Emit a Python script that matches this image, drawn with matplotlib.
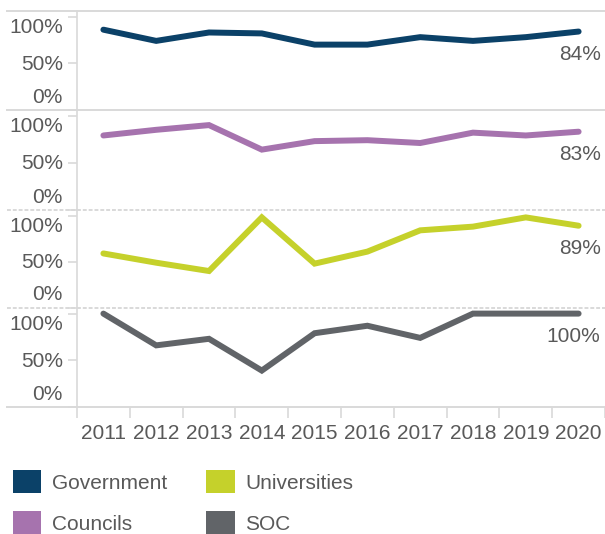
import matplotlib
matplotlib.use("Agg")
import matplotlib.pyplot as plt
from matplotlib.lines import Line2D
from matplotlib.patches import Patch
import matplotlib.transforms as mtransforms

plt.rcParams['font.family'] = ['Liberation Sans', 'DejaVu Sans']

# share of organisations per year, one series per panel
years = ['2011', '2012', '2013', '2014', '2015', '2016', '2017', '2018', '2019', '2020']
series_names = ['Government', 'Councils', 'Universities', 'SOC']
government = [0.86, 0.74, 0.83, 0.82, 0.70, 0.70, 0.78, 0.74, 0.78, 0.84]
councils = [0.79, 0.85, 0.90, 0.64, 0.73, 0.74, 0.71, 0.82, 0.79, 0.83]
universities = [0.59, 0.49, 0.40, 0.98, 0.48, 0.61, 0.84, 0.88, 0.98, 0.89]
soc = [1.00, 0.66, 0.73, 0.39, 0.79, 0.87, 0.74, 1.00, 1.00, 1.00]
colors = ['#0b4168', '#a673ae', '#c5d12b', '#616468']

text_grey = '#595959'
rule_grey = '#d9d9d9'
fs = 15

W, H = 605, 534
fig = plt.figure(figsize=(W / 100, H / 100), dpi=100)

# panel edges in pixels from the top
edges = [11, 110, 210, 308, 407]
left, right = 77, 605
x = list(range(len(years)))

for i, vals in enumerate([government, councils, universities, soc]):
    top, bot = edges[i], edges[i + 1]
    ax = fig.add_axes([left / W, 1 - bot / H, (right - left) / W, (bot - top) / H])
    ax.plot(x, vals, color=colors[i], lw=4.3, solid_capstyle='round', solid_joinstyle='miter')
    ax.set_xlim(-0.5, len(years) - 0.5)
    ax.set_ylim(0, 1.06)
    for s in ['top', 'right', 'bottom']:
        ax.spines[s].set_visible(False)
    ax.spines['left'].set_color(rule_grey)
    ax.spines['left'].set_linewidth(1.2)

    ax.set_yticks([0, 0.5, 1.0])
    ax.set_yticklabels(['0%', '50%', '100%'])
    ax.tick_params(axis='y', length=6.5, width=1.2, color=rule_grey,
                   labelsize=fs, labelcolor=text_grey, pad=3.8)
    shifts = [15, 1, -9]
    for lab, dy in zip(ax.get_yticklabels(), shifts):
        lab.set_transform(lab.get_transform() +
                          mtransforms.ScaledTranslation(0, dy / 100, fig.dpi_scale_trans))

    # end value label
    ax.annotate(f"{vals[-1]:.0%}", xy=(x[-1], vals[-1]), xytext=(22, -23),
                textcoords='offset pixels', ha='right', va='center',
                fontsize=fs, color=text_grey)

    if i < 3:
        ax.set_xticks([])
    else:
        ax.set_xticks(x)
        ax.set_xticklabels(years)
        ax.set_xticks([v - 0.5 for v in x] + [len(years) - 0.5], minor=True)
        ax.tick_params(axis='x', which='major', length=0, labelsize=fs,
                       labelcolor=text_grey, pad=12)
        ax.tick_params(axis='x', which='minor', length=8, width=1.2, color=rule_grey)

# horizontal rules between panels
styles = ['-', '-', (0, (2, 1)), (0, (2, 1)), '-']
for y, ls in zip(edges, styles):
    fig.add_artist(Line2D([7 / W, 1], [1 - y / H, 1 - y / H], color=rule_grey,
                          lw=1.4, ls=ls))

handles = [Patch(facecolor=c, edgecolor='none') for c in colors]
fig.legend(handles, series_names, loc='upper left', bbox_to_anchor=(13 / W, 1 - 470 / H),
           ncol=2, frameon=False, fontsize=fs, labelcolor=text_grey, borderpad=0,
           borderaxespad=0, handlelength=1.35, handleheight=1.35, handletextpad=0.5,
           labelspacing=0.85, columnspacing=1.9)

fig.savefig('out.png', dpi=100)
